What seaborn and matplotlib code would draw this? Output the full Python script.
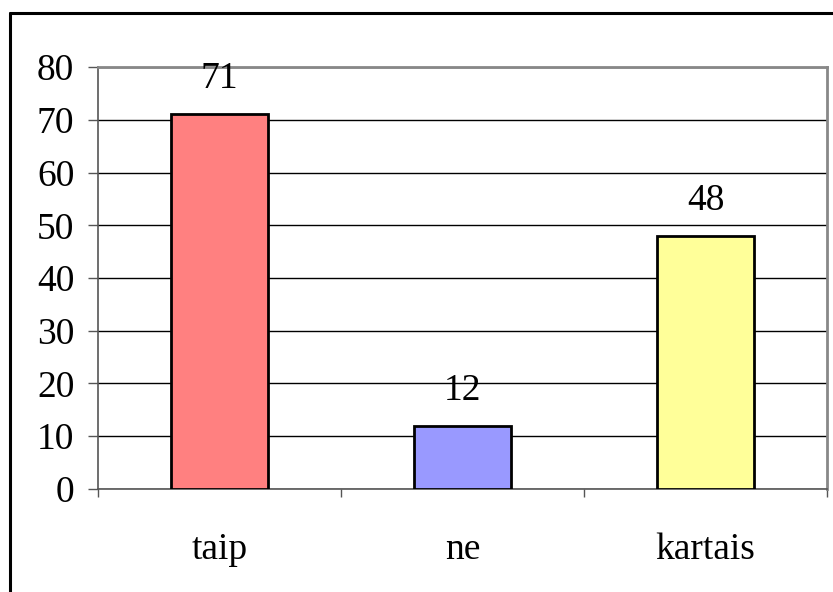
import pandas as pd
import matplotlib.pyplot as plt
import seaborn as sns
from matplotlib.lines import Line2D

categories = ["taip", "ne", "kartais"]
values = [71, 12, 48]
colors = ["#FF8080", "#9999FF", "#FFFF99"]

df = pd.DataFrame({"atsakymas": categories, "kiekis": values})

sns.set_style("white")
plt.rcParams['font.family'] = ['Liberation Serif', 'DejaVu Serif']
plt.rcParams['text.color'] = 'black'
plt.rcParams['xtick.color'] = 'black'
plt.rcParams['ytick.color'] = 'black'

fig = plt.figure(figsize=(8.33, 5.92), dpi=100)
ax = fig.add_axes([0.1176, 0.174, 0.8752, 0.7128])

sns.barplot(data=df, x="atsakymas", y="kiekis", hue="atsakymas",
            palette=colors, saturation=1, width=0.4, edgecolor="black",
            linewidth=2, legend=False, ax=ax, zorder=3)

for c in ax.containers:
    ax.bar_label(c, fontsize=27, padding=13, zorder=4, color="black")

ax.set_ylim(0, 80)
ax.set_xlim(-0.5, 2.5)
ax.set_yticks(range(0, 81, 10))
ax.yaxis.grid(True, color="black", linewidth=1)
ax.set_axisbelow(True)
ax.set_xlabel("")
ax.set_ylabel("")

ax.set_xticks([-0.5, 0.5, 1.5, 2.5], minor=True)
ax.tick_params(axis="x", which="major", length=0, labelsize=27, pad=31,
               labelcolor="black")
ax.tick_params(axis="x", which="minor", length=6, width=1, color="#555555",
               direction="out", bottom=True)
ax.tick_params(axis="y", length=7, width=1, color="#555555", direction="out",
               labelsize=27, pad=10, left=True, labelcolor="black")

for side in ["top", "right"]:
    ax.spines[side].set_color("#888888")
    ax.spines[side].set_linewidth(2)
for side in ["left", "bottom"]:
    ax.spines[side].set_color("#555555")
    ax.spines[side].set_linewidth(1.2)

# outer chart frame
fig.add_artist(Line2D([0.012, 0.012], [0, 0.978], color="black", linewidth=2.2,
                      transform=fig.transFigure))
fig.add_artist(Line2D([0.012, 1.0], [0.978, 0.978], color="black", linewidth=2.2,
                      transform=fig.transFigure))

fig.savefig("out.png", dpi=100)
